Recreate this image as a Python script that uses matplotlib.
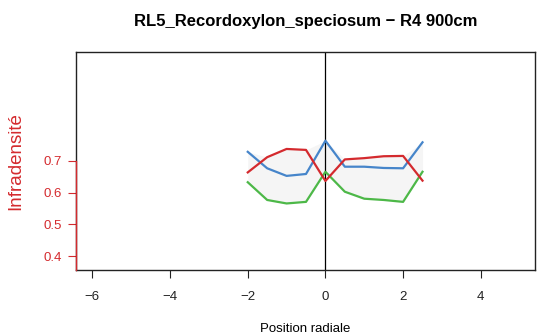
import numpy as np
import matplotlib
matplotlib.use('Agg')
import matplotlib.pyplot as plt

plt.rcParams['font.family'] = ['Liberation Sans', 'DejaVu Sans']

# radial positions and the three profiles
pos = [-2, -1.5, -1, -0.5, 0, 0.5, 1, 1.5, 2, 2.5]
blue = [0.729, 0.677, 0.653, 0.659, 0.764, 0.682, 0.682, 0.678, 0.677, 0.759]
red = [0.664, 0.712, 0.738, 0.735, 0.637, 0.705, 0.709, 0.715, 0.716, 0.638]
green = [0.633, 0.577, 0.566, 0.571, 0.666, 0.603, 0.581, 0.577, 0.571, 0.666]

title = 'RL5_Recordoxylon_speciosum \u2212 R4 900cm'
red_c = '#D42A2E'

fig = plt.figure(figsize=(5.37, 3.36), dpi=100)
ax = fig.add_axes([0.141, 0.1955, 0.8555, 0.6488])

upper = np.maximum(blue, red)
ax.fill_between(pos, green, upper, color='#F5F5F5', lw=0, zorder=1)
ax.axvline(0, color='black', lw=0.9, zorder=2)
ax.plot(pos, blue, color='#4685CA', lw=1.6, zorder=3)
ax.plot(pos, green, color='#4DB848', lw=1.6, zorder=3)
ax.plot(pos, red, color=red_c, lw=1.6, zorder=4)

ax.set_xlim(-6.43, 5.40)
ax.set_ylim(0.355, 1.043)
ax.set_xticks([-6, -4, -2, 0, 2, 4])
ax.set_xticklabels(['\u22126', '\u22124', '\u22122', '0', '2', '4'])
ax.set_yticks([0.4, 0.5, 0.6, 0.7])
ax.tick_params(axis='x', length=6, width=0.8, pad=9, labelsize=9.5, colors='#222222')
ax.tick_params(axis='y', length=6, width=0.8, pad=4, labelsize=9.5, colors=red_c)
for s in ax.spines.values():
    s.set_color('#222222')
    s.set_linewidth(1.0)

# red axis line from bottom to last tick
ax.plot([0, 0], [0, (0.7 - 0.355) / (1.043 - 0.355)], transform=ax.transAxes,
        color=red_c, lw=1.0, clip_on=False, zorder=5)

ax.set_xlabel('Position radiale', fontsize=9.5, labelpad=14)
ax.set_ylabel('Infradensit\u00e9', fontsize=13.5, color=red_c)
ax.yaxis.set_label_coords(-0.112, 0.5)
ax.set_title(title, fontsize=12, fontweight='bold', pad=19)

fig.savefig('out.png', dpi=100)
